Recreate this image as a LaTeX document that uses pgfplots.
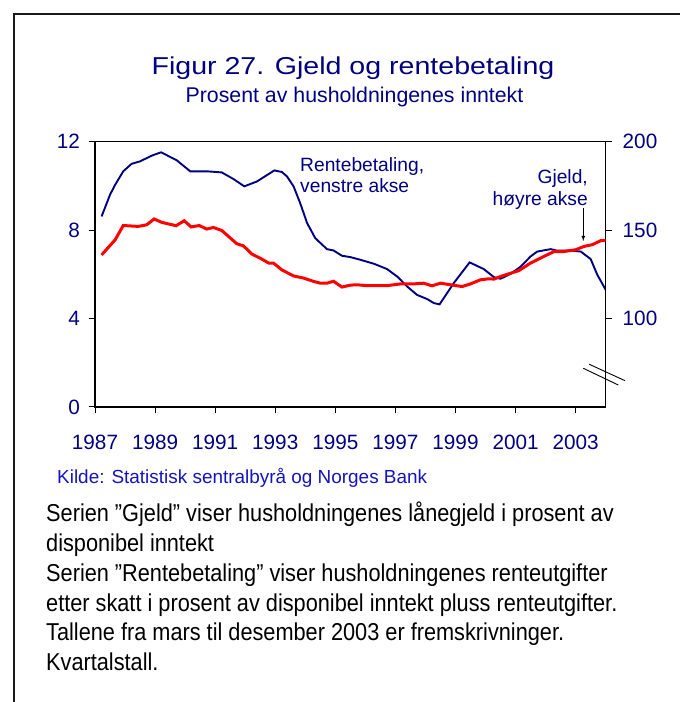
\documentclass[border=0pt]{standalone}
\usepackage{fontspec}
\setmainfont{Liberation Sans}
\newfontfamily\narrowfont[FakeStretch=0.89]{Liberation Sans}
\newfontfamily\widefont[FakeStretch=1.17]{Liberation Sans}
\usepackage{pgfplots}
\pgfplotsset{compat=1.18}
\definecolor{navy}{RGB}{0,0,128}
\definecolor{kilde}{RGB}{20,20,190}
\definecolor{gjeldred}{RGB}{255,0,0}

\pgfplotsset{
  chartbase/.style={
    at={(95bp,295bp)}, anchor=south west,
    scale only axis, width=510.7bp, height=265.3bp,
    xmin=1987, xmax=2004,
    tick align=outside,
    major tick length=6.5bp,
    tick style={black, line width=1bp},
    axis line style={black, line width=1.2bp},
    tick label style={font=\fontsize{20.8}{25}\selectfont, text=navy},
    /pgf/number format/assume math mode=true,
    /pgf/number format/1000 sep={},
  },
}

\begin{document}
\begin{tikzpicture}[x=1bp,y=1bp]
\useasboundingbox (0,0) rectangle (680,702);
\draw[line width=2.2bp, black!90] (14,0) -- (14,688) -- (680,688);

% Rentebetaling, venstre akse
\begin{axis}[chartbase,
  ymin=0, ymax=12, ytick={0,4,8,12},
  xtick={1987,1989,...,2003},
  xtick pos=bottom, ytick pos=left,
  yticklabel style={xshift=-5bp},
  xticklabel style={yshift=-18bp},
]
\addplot[navy, line width=1.9bp] coordinates {
  (1987.22,8.62) (1987.5,9.6) (1987.67,10.05) (1987.94,10.66) (1988.22,11.0)
  (1988.5,11.11) (1988.89,11.37) (1989.2,11.52) (1989.72,11.16) (1990.17,10.66)
  (1990.72,10.66) (1991.22,10.61) (1991.61,10.31) (1991.97,9.98) (1992.39,10.2)
  (1992.83,10.58) (1992.97,10.7) (1993.22,10.63) (1993.39,10.43) (1993.61,9.98)
  (1993.83,9.22) (1994.06,8.32) (1994.33,7.64) (1994.72,7.14) (1994.94,7.08)
  (1995.22,6.84) (1995.5,6.78) (1995.83,6.66) (1996.28,6.48) (1996.72,6.24)
  (1997.06,5.9) (1997.39,5.45) (1997.72,5.07) (1998.06,4.88) (1998.28,4.7)
  (1998.47,4.64) (1998.94,5.6) (1999.47,6.54) (1999.94,6.24) (2000.28,5.87)
  (2000.5,5.8) (2000.83,6.02) (2001.17,6.35) (2001.5,6.81) (2001.72,7.03)
  (2002.17,7.14) (2002.39,7.07) (2002.83,7.08) (2003.17,7.03) (2003.5,6.69)
  (2003.72,5.98) (2004.0,5.3)
};
\end{axis}

% Gjeld, hoyre akse
\begin{axis}[chartbase,
  ymin=50, ymax=200, ytick={100,150,200},
  axis y line*=right, axis x line=none,
  yticklabel style={xshift=7bp},
]
\addplot[gjeldred, line width=3bp] coordinates {
  (1987.22,136.0) (1987.67,144.5) (1987.94,152.6) (1988.44,152.1) (1988.72,153.0)
  (1988.97,156.3) (1989.22,154.4) (1989.70,152.5) (1989.97,155.3) (1990.20,151.8)
  (1990.47,152.6) (1990.72,150.6) (1990.94,151.5) (1991.22,149.8) (1991.72,142.3)
  (1991.94,141.1) (1992.22,136.5) (1992.50,134.1) (1992.78,131.4) (1992.94,131.4)
  (1993.22,127.5) (1993.61,124.1) (1993.94,122.9) (1994.28,121.0) (1994.5,120.0)
  (1994.72,120.0) (1994.94,121.1) (1995.22,117.8) (1995.5,118.9) (1995.72,119.1)
  (1996.06,118.6) (1996.72,118.6) (1997.17,119.6) (1997.61,119.6) (1997.94,120.0)
  (1998.22,118.5) (1998.5,120.0) (1998.83,119.1) (1999.22,118.1) (1999.5,119.6)
  (1999.83,121.9) (2000.11,122.5) (2000.28,122.3) (2000.5,123.8) (2000.83,125.6)
  (2001.11,127.1) (2001.5,131.4) (2001.94,135.1) (2002.28,137.9) (2002.61,137.9)
  (2003.0,138.9) (2003.28,140.8) (2003.56,141.8) (2003.83,144.0) (2004.0,144.1)
};
\end{axis}

% titles
\node[anchor=base, text=navy, inner sep=0, font=\widefont\fontsize{24.5}{29}\selectfont]
  at (353,627.7) {Figur 27. Gjeld og rentebetaling};
\node[anchor=base, text=navy, inner sep=0, font=\fontsize{21.4}{25}\selectfont]
  at (354.5,599.7) {Prosent av husholdningenes inntekt};

% labels in the plot
\begin{scope}[every node/.style={inner sep=0, text=navy, font=\fontsize{19.3}{23}\selectfont}]
\node[anchor=base west] at (300,530.5) {Rentebetaling,};
\node[anchor=base west] at (300,509.5) {venstre akse};
\node[anchor=base east] at (588,518.7) {Gjeld,};
\node[anchor=base east] at (588,496) {høyre akse};
\end{scope}
\draw[black, line width=0.8bp, -latex] (583.3,493.7) -- (583.3,461);

% axis break
\draw[black, line width=0.9bp] (589.3,337.7) -- (625,321.3);
\draw[black, line width=0.9bp] (583.3,333.7) -- (618.3,317);

% source and notes
\node[anchor=base west, inner sep=0, text=kilde, font=\fontsize{19}{23}\selectfont]
  at (57,218.7) {Kilde: Statistisk sentralbyrå og Norges Bank};
\begin{scope}[every node/.style={anchor=base west, inner sep=0, font=\narrowfont\fontsize{24.5}{29}\selectfont}]
\node at (46,180) {Serien ”Gjeld” viser husholdningenes lånegjeld i prosent av};
\node at (46,150.3) {disponibel inntekt};
\node at (46,120.6) {Serien ”Rentebetaling” viser husholdningenes renteutgifter};
\node at (46,90.9) {etter skatt i prosent av disponibel inntekt pluss renteutgifter.};
\node at (46,61.2) {Tallene fra mars til desember 2003 er fremskrivninger.};
\node at (46,31.5) {Kvartalstall.};
\end{scope}
\end{tikzpicture}
\end{document}
